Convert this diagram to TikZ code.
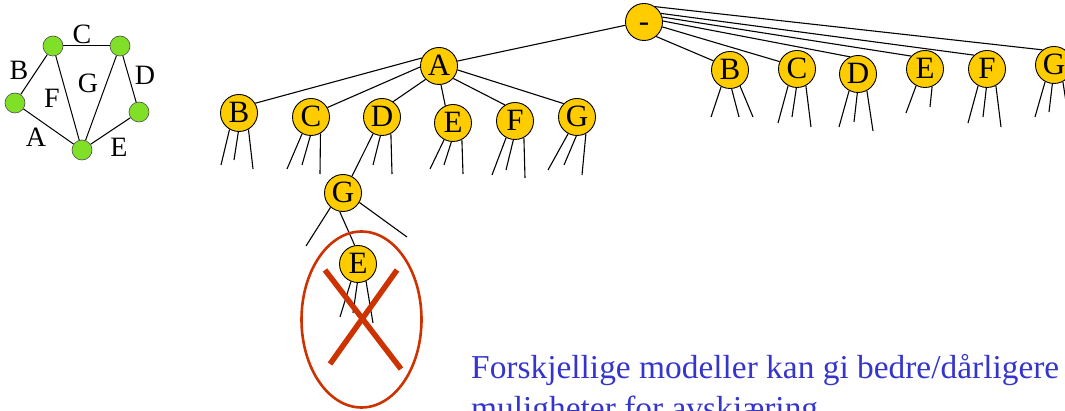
\documentclass[tikz,border=0pt]{standalone}
\usepackage{fontspec}
\setmainfont{Liberation Serif}
\usetikzlibrary{shapes.geometric}
\definecolor{nodeyellow}{HTML}{FFCC00}
\definecolor{nodegreen}{HTML}{80E028}
\definecolor{cutred}{HTML}{CC3300}
\definecolor{noteblue}{HTML}{3535CC}
\tikzset{
  tnode/.style={circle, draw=black, line width=0.9pt, fill=nodeyellow,
    minimum size=37pt, inner sep=0pt, text height=19pt, text depth=0pt,
    font=\fontsize{31}{32}\selectfont},
  gnode/.style={circle, draw=black!70, line width=0.6pt, fill=nodegreen,
    minimum size=20pt, inner sep=0pt},
  edge/.style={draw=black, line width=1.1pt},
  gedge/.style={draw=black, line width=1pt},
  glabel/.style={font=\fontsize{28}{28}\selectfont, inner sep=0pt,
    text height=18.5pt, text depth=0pt},
  note/.style={anchor=base west, text=noteblue, inner sep=0pt,
    font=\fontsize{33.4}{34}\selectfont},
}
% short stubs below a node: angle/end x/end y
\newcommand\stubs[2]{%
  \foreach \a/\ex/\ey [count=\i] in {#2} {%
    \coordinate (#1-e\i) at (\ex,\ey);
    \draw[edge] (#1.\a) -- (#1-e\i);
  }}
\begin{document}
\begin{tikzpicture}[x=1pt, y=-1pt]
\useasboundingbox (0,0) rectangle (1065,411);
\clip (0,0) rectangle (1065,411);

% small map graph
\node[gnode] (g1) at (53,46) {};
\node[gnode] (g2) at (120,46) {};
\node[gnode] (g3) at (15,103) {};
\node[gnode] (g4) at (139,112) {};
\node[gnode] (g5) at (82,150) {};
\draw[gedge] (g1) -- (g2);
\draw[gedge] (g1) -- (g3);
\draw[gedge] (g1) -- (g5);
\draw[gedge] (g2) -- (g5);
\draw[gedge] (g2) -- (g4);
\draw[gedge] (g3) -- (g5);
\draw[gedge] (g4) -- (g5);
\node[glabel] (lC) at (82,34) {C};
\node[glabel] (lB) at (19,70) {B};
\node[glabel] (lF) at (52,98) {F};
\node[glabel] (lG) at (88,83) {G};
\node[glabel] (lD) at (145,75) {D};
\node[glabel] (lA) at (36,137) {A};
\node[glabel] (lE) at (119,147) {E};

% search tree
\node[tnode] (root) at (644,22) {-};
\node[tnode] (A) at (439,66) {A};

\node[tnode] (aB) at (239,113) {B};
\node[tnode] (aC) at (311,117) {C};
\node[tnode] (aD) at (382,117) {D};
\node[tnode] (aE) at (453,123) {E};
\node[tnode] (aF) at (515,121) {F};
\node[tnode] (aG) at (577,117) {G};

\node[tnode] (rB) at (730,70) {B};
\node[tnode] (rC) at (797,69) {C};
\node[tnode] (rD) at (858,74) {D};
\node[tnode] (rE) at (925,69) {E};
\node[tnode] (rF) at (987,69) {F};
\node[tnode] (rG) at (1054,65) {G};

\node[tnode] (dG) at (343,193) {G};
\node[tnode] (gE) at (358,264) {E};

\draw[edge] (root.190) -- (A.15);
\draw[edge] (root.-50) -- (rB.151);
\draw[edge] (root.-15) -- (rC.157);
\draw[edge] (root.3) -- (rD.115);
\draw[edge] (root.15) -- (rE.137);
\draw[edge] (root.27) -- (rF.133);
\draw[edge] (root.54) -- (rG.127);

\draw[edge] (A.155) -- (aB.31);
\draw[edge] (A.183) -- (aC.30);
\draw[edge] (A.-135) -- (aD.54);
\draw[edge] (A.-84) -- (aE.114);
\draw[edge] (A.-41) -- (aF.122);
\draw[edge] (A.-12) -- (aG.135);
\draw[edge] (aD.-118) -- (dG.62);
\draw[edge] (dG.-100) -- (gE.100);

\stubs{aB}{-120/221/165, -92/234/160, -60/253/169}
\stubs{aC}{-118/287/169, -92/302/165, -60/320/174}
\stubs{aD}{-95/373/165, -62/392/174}
\stubs{aE}{-118/430/169, -95/444/165, -62/463/174}
\stubs{aF}{-118/492/175, -95/506/170, -62/525/178}
\stubs{aG}{-118/548/170, -92/564/165, -62/582/175}
\stubs{rB}{-118/711/117, -85/739/117, -58/753/117}
\stubs{rC}{-118/778/123, -92/792/117, -62/811/127}
\stubs{rD}{-118/839/127, -92/854/122, -62/873/131}
\stubs{rE}{-118/906/113, -68/930/107}
\stubs{rF}{-118/968/123, -92/983/117, -62/1001/127}
\stubs{rG}{-118/1035/117, -95/1049/112, -62/1068/115}
\stubs{dG}{-131/306/246, -30/407/237}
\stubs{gE}{-112/340/317, -92/353/313, -65/373/323}

% pruned branch
\node[draw=cutred, line width=2.6pt, ellipse, minimum width=120pt,
  minimum height=176pt, inner sep=0pt] (cut) at (361.5,319.5) {};
\coordinate (x1a) at (325,270);
\coordinate (x1b) at (401,369);
\coordinate (x2a) at (397,270);
\coordinate (x2b) at (330,364);
\draw[cutred, line width=5.5pt] (x1a) -- (x1b);
\draw[cutred, line width=5.5pt] (x2a) -- (x2b);

% note
\node[note] (n1) at (471,378) {Forskjellige modeller kan gi bedre/dårligere};
\node[note] (n2) at (471,419) {muligheter for avskjæring};
\end{tikzpicture}
\end{document}
